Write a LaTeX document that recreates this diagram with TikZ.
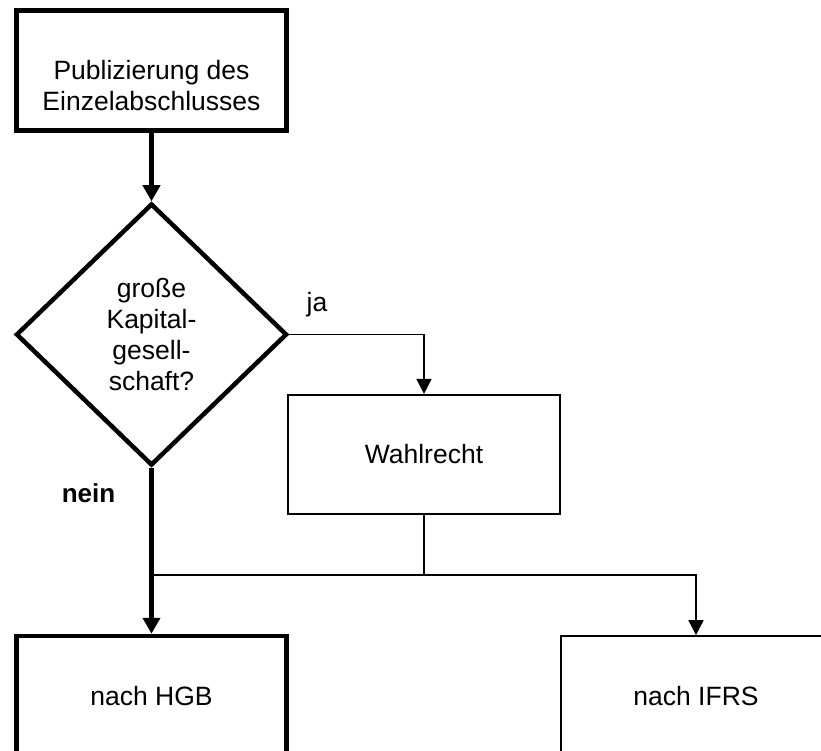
\documentclass[tikz,border=0pt]{standalone}
\usepackage{fontspec}
\setmainfont{Liberation Sans}
\usetikzlibrary{shapes.geometric,arrows.meta}
\begin{document}
\begin{tikzpicture}[x=1pt,y=-1pt,
  txt/.style={font=\fontsize{26.5}{31}\selectfont, align=center},
  boldtxt/.style={font=\fontsize{26}{31}\selectfont\bfseries},
  heavy/.style={line width=4.5pt},
  light/.style={line width=1.7pt},
  box/.style={draw, rectangle, inner sep=0pt},
  bigtip/.style={-{Triangle[length=16pt,width=17pt]}},
  smalltip/.style={-{Triangle[length=15pt,width=15pt]}},
]
\useasboundingbox (0,0) rectangle (821,751);
\clip (0,0) rectangle (821,751);
% nodes
\node[box,heavy,minimum width=270pt,minimum height=120pt] (top) at (151.5,70.5) {};
\node[txt] (toptext) at (151.5,85.5) {Publizierung des\\Einzelabschlusses};
\node[diamond,draw,heavy,inner sep=0pt,minimum width=271pt,minimum height=262pt,txt] (dia) at (151.5,334.5) {große\\Kapital-\\gesell-\\schaft?};
\node[box,light,txt,minimum width=272.5pt,minimum height=119.5pt] (wahl) at (424,454.5) {Wahlrecht};
\node[box,heavy,txt,minimum width=270pt,minimum height=120pt] (hgb) at (151.5,696) {nach HGB};
\node[box,light,txt,minimum width=270pt,minimum height=120pt] (ifrs) at (696,696) {nach IFRS};
\node[txt,anchor=base] (ja) at (317,311) {ja};
\node[boldtxt,anchor=base] (nein) at (88.5,502) {nein};
% connectors
\coordinate (junc) at (151.5,575);
\draw[heavy,bigtip] (top.south) -- (dia.north);
\draw[light,smalltip] (dia.east) -| (wahl.north);
\draw[heavy,bigtip] (dia.south) -- (hgb.north);
\draw[light] (wahl.south) -- (wahl.south |- junc);
\draw[light,smalltip] (junc) -| (ifrs.north);
\end{tikzpicture}
\end{document}
